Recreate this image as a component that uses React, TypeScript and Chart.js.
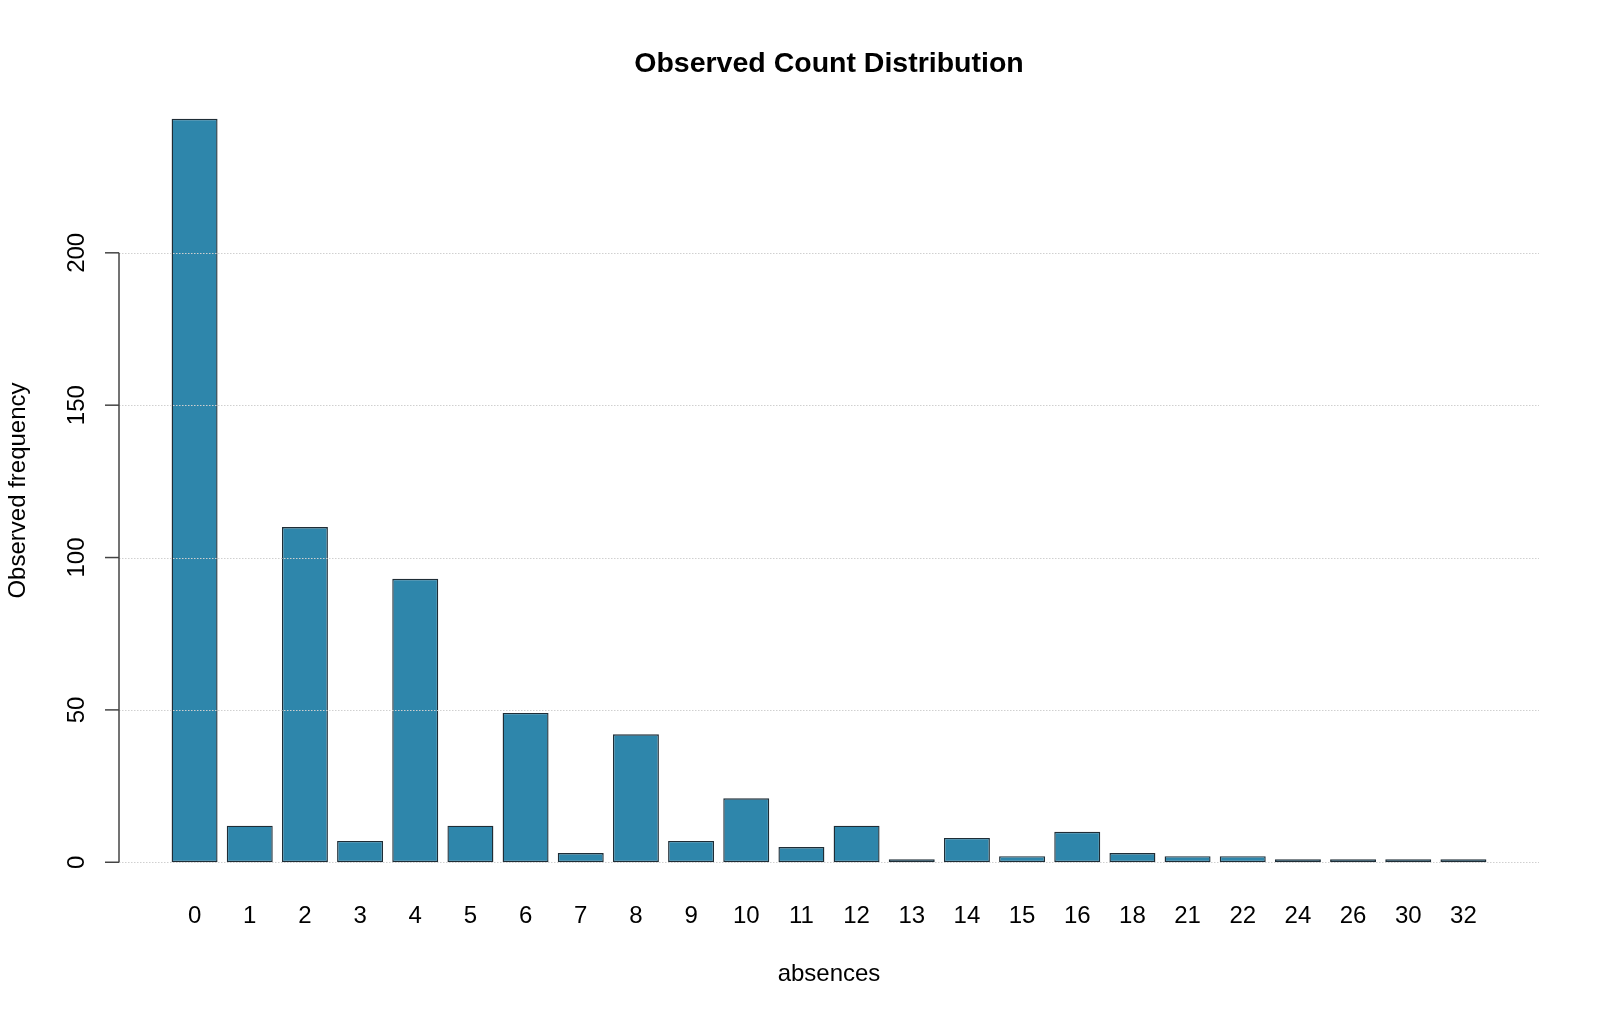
import { useEffect, useRef } from "react";
import { Chart, registerables } from "chart.js";
import type { Plugin } from "chart.js";
Chart.register(...registerables);

// observed frequency of each absences value
const absences = [
  "0", "1", "2", "3", "4", "5", "6", "7", "8", "9", "10", "11",
  "12", "13", "14", "15", "16", "18", "21", "22", "24", "26", "30", "32",
];
const counts = [
  244, 12, 110, 7, 93, 12, 49, 3, 42, 7, 21, 5,
  12, 1, 8, 2, 10, 3, 2, 2, 1, 1, 1, 1,
];
const yTicks = [0, 50, 100, 150, 200];

const chartTitle = "Observed Count Distribution";
const xTitle = "absences";
const yTitle = "Observed frequency";

const FONT = '"Liberation Sans", Arial, sans-serif';

// base-R look: short y axis, dotted grid on top of bars, rotated tick labels
const baseStyle: Plugin<"bar"> = {
  id: "baseStyle",
  afterDatasetsDraw(chart) {
    const { ctx } = chart;
    const x = chart.scales.x;
    const y = chart.scales.y;
    const unit = (x.getPixelForValue(1) - x.getPixelForValue(0)) / 1.2;
    const left = x.getPixelForValue(0) - 1.644 * unit;
    const right = x.getPixelForValue(absences.length - 1) + 1.644 * unit;
    const mid = (left + right) / 2;
    const yMid = (chart.chartArea.top + chart.chartArea.bottom) / 2;

    ctx.save();
    ctx.strokeStyle = "#d0d0d0";
    ctx.lineWidth = 1;
    ctx.setLineDash([1.5, 1.5]);
    yTicks.forEach((v) => {
      const py = Math.round(y.getPixelForValue(v)) + 0.5;
      ctx.beginPath();
      ctx.moveTo(left, py);
      ctx.lineTo(right, py);
      ctx.stroke();
    });
    ctx.setLineDash([]);

    ctx.strokeStyle = "#444444";
    ctx.lineWidth = 1.5;
    ctx.beginPath();
    ctx.moveTo(left, y.getPixelForValue(yTicks[0]));
    ctx.lineTo(left, y.getPixelForValue(yTicks[yTicks.length - 1]));
    ctx.stroke();

    ctx.fillStyle = "#000000";
    ctx.font = `24px ${FONT}`;
    ctx.textAlign = "center";
    ctx.textBaseline = "alphabetic";
    yTicks.forEach((v) => {
      const py = y.getPixelForValue(v);
      ctx.beginPath();
      ctx.moveTo(left - 14, py);
      ctx.lineTo(left, py);
      ctx.stroke();
      ctx.save();
      ctx.translate(left - 35, py);
      ctx.rotate(-Math.PI / 2);
      ctx.fillText(String(v), 0, 0);
      ctx.restore();
    });

    absences.forEach((lab, i) => {
      ctx.fillText(lab, x.getPixelForValue(i), 923);
    });
    ctx.fillText(xTitle, mid, 981);

    ctx.save();
    ctx.translate(25, yMid);
    ctx.rotate(-Math.PI / 2);
    ctx.fillText(yTitle, 0, 0);
    ctx.restore();

    ctx.font = `bold 28.5px ${FONT}`;
    ctx.fillText(chartTitle, mid, 72);
    ctx.restore();
  },
};

const CountChart = () => {
  const canvasRef = useRef<HTMLCanvasElement | null>(null);
  useEffect(() => {
    if (!canvasRef.current) return;
    document.body.style.margin = "0";

    const chartInstance = new Chart(canvasRef.current, {
      type: "bar",
      data: {
        labels: absences,
        datasets: [
          {
            data: counts,
            backgroundColor: "#2E86AB",
            borderColor: "#1f2d36",
            borderWidth: 1.4,
            borderSkipped: false,
            barPercentage: 1 / 1.2,
            categoryPercentage: 1,
          },
        ],
      },
      options: {
        responsive: false,
        animation: false,
        devicePixelRatio: 1,
        layout: {
          padding: { left: 167, right: 109, top: 89, bottom: 126 },
        },
        plugins: {
          legend: { display: false },
          tooltip: { enabled: false },
        },
        scales: {
          x: { display: false, offset: true },
          y: { display: false, min: -9.76, max: 253.76 },
        },
      },
      plugins: [baseStyle],
    });

    return () => {
      chartInstance.destroy();
    };
  }, []);

  return (
    <canvas
      ref={canvasRef}
      width={1600}
      height={1018}
      style={{ display: "block", background: "#ffffff" }}
    />
  );
};

export default function App() {
  return <CountChart />;
}
